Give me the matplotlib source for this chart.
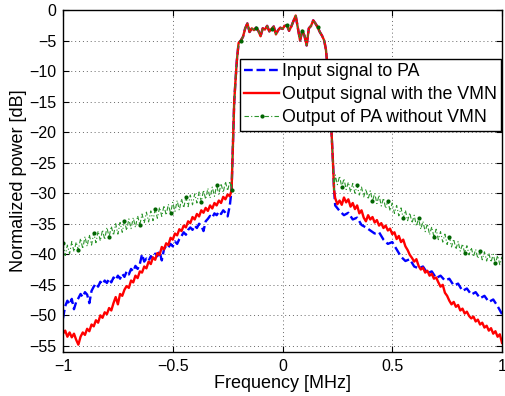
import numpy as np
import matplotlib
matplotlib.use("Agg")
import matplotlib.pyplot as plt

# ---------------- data (dB) ----------------
# Left skirt: uniform bins from -1.00 MHz to -0.24 MHz
red_left = [-53.0, -52.5, -53.5, -52.8, -53.6, -53.0, -54.0, -54.8, -53.5, -52.8,
            -53.2, -52.2, -52.6, -51.5, -51.8, -50.8, -51.2, -50.0, -50.4, -49.5,
            -49.8, -48.8, -49.2, -48.0, -47.0, -48.2, -46.5, -46.8, -45.8, -45.2,
            -45.5, -44.3, -44.6, -43.5, -43.9, -42.8, -43.0, -42.0, -42.3, -41.2,
            -41.6, -40.5, -40.9, -39.8, -40.1, -38.8, -39.2, -38.2, -38.5, -37.3,
            -37.6, -36.6, -36.9, -35.9, -36.2, -35.3, -35.6, -34.6, -34.9, -33.9,
            -34.3, -33.4, -33.8, -32.8, -33.2, -32.4, -32.9, -32.0, -32.5, -31.6,
            -32.0, -31.2, -31.6, -30.6, -31.0, -30.2, -30.5]
blue_left = [-50.5, -48.5, -47.6, -48.2, -47.3, -49.0, -47.8, -47.2, -46.5, -47.0,
             -46.2, -46.6, -48.0, -46.0, -45.3, -44.8, -45.3, -44.5, -44.9, -44.3,
             -44.7, -44.0, -44.6, -43.8, -44.2, -43.5, -44.0, -43.2, -43.7, -42.8,
             -43.3, -42.4, -42.8, -41.9, -42.4, -41.6, -40.0, -41.2, -40.7, -41.1,
             -40.3, -40.7, -39.9, -40.3, -39.5, -41.0, -39.2, -38.6, -38.9, -38.3,
             -38.7, -37.9, -38.3, -37.5, -37.0, -36.4, -36.8, -36.0, -35.6, -36.0,
             -35.3, -35.7, -35.0, -35.3, -36.2, -34.6, -34.2, -33.7, -34.0, -33.3,
             -33.6, -33.0, -33.4, -32.8, -33.2, -33.8, -32.0]
green_left = [-38.2, -40.2, -38.5, -39.9, -37.9, -39.6, -38.0, -39.3, -37.4, -39.1,
              -37.1, -38.7, -36.8, -38.5, -36.5, -38.1, -36.2, -37.8, -36.0, -37.6,
              -35.6, -37.2, -35.4, -36.9, -35.0, -36.7, -34.8, -36.4, -34.5, -36.1,
              -34.2, -35.8, -34.0, -35.6, -33.7, -35.2, -33.4, -34.9, -33.1, -34.7,
              -32.9, -34.5, -32.6, -34.1, -32.3, -33.8, -32.0, -33.6, -31.8, -33.3,
              -31.5, -33.0, -31.2, -32.8, -30.9, -32.4, -30.6, -32.2, -30.3, -31.9,
              -30.1, -31.6, -29.8, -31.4, -29.5, -31.0, -29.2, -30.8, -29.0, -30.5,
              -28.7, -30.2, -28.4, -29.9, -28.1, -29.6, -28.0]

# Right skirt: uniform bins from 0.24 MHz to 1.00 MHz
red_right = [-30.8, -31.8, -31.2, -31.9, -30.7, -31.5, -31.0, -32.2, -31.6, -32.6,
             -32.0, -33.3, -32.8, -34.0, -34.6, -33.6, -34.3, -33.9, -34.8, -34.4,
             -35.3, -34.9, -35.7, -35.3, -36.1, -35.8, -36.7, -36.4, -37.5, -37.0,
             -38.0, -37.6, -38.7, -39.3, -40.1, -40.6, -41.2, -40.8, -41.9, -42.5,
             -42.2, -43.0, -42.7, -43.5, -43.2, -44.0, -43.8, -44.6, -45.3, -45.0,
             -46.3, -46.8, -47.6, -48.2, -47.8, -48.6, -48.3, -49.2, -48.9, -49.7,
             -49.4, -50.1, -50.5, -50.2, -51.0, -50.7, -51.5, -51.2, -52.0, -51.7,
             -52.5, -52.1, -53.0, -52.6, -53.5, -53.1, -54.5]
blue_right = [-32.0, -32.9, -33.6, -33.2, -34.3, -34.0, -35.2, -35.6, -36.1, -36.6,
              -36.4, -37.6, -38.3, -38.0, -39.2, -40.4, -41.1, -40.8, -42.0, -42.3,
              -42.0, -43.1, -42.8, -43.9, -43.5, -44.3, -44.0, -45.1, -44.8, -46.0,
              -45.6, -46.6, -46.2, -47.2, -46.8, -47.8, -47.4, -48.5, -49.8]
green_right = [-27.0, -28.6, -27.2, -29.0, -27.6, -29.4, -28.2, -29.8, -28.4, -30.0,
               -28.7, -30.3, -29.0, -30.6, -29.3, -31.0, -29.6, -31.3, -30.0, -31.7,
               -30.3, -32.1, -30.8, -32.5, -31.2, -32.9, -31.6, -33.3, -32.0, -33.7,
               -32.4, -34.1, -32.8, -34.5, -33.2, -34.9, -33.6, -35.4, -34.1, -35.9,
               -34.6, -36.3, -35.0, -36.8, -35.5, -37.2, -35.9, -37.6, -36.3, -38.0,
               -36.7, -38.4, -37.1, -38.8, -37.5, -39.2, -37.9, -39.5, -38.3, -39.8,
               -38.6, -40.1, -38.9, -40.4, -39.2, -40.7, -39.4, -40.9, -39.6, -41.1,
               -39.8, -41.3, -40.0, -41.5, -40.2, -41.7, -40.4]

# In-band (shared): uniform bins from -0.20 MHz to 0.19 MHz
pass_db = [-5.4, -5.0, -4.4, -3.0, -2.2, -3.6, -3.0, -3.3, -2.9, -3.4,
           -4.3, -3.0, -3.2, -2.6, -3.5, -3.1, -2.7, -4.0, -3.3, -2.9,
           -3.1, -2.6, -2.5, -3.4, -2.7, -1.8, -0.9, -3.0, -5.0, -3.4,
           -4.2, -5.8, -3.0, -2.6, -1.7, -2.2, -2.8, -3.6, -4.2, -5.0]
# Band edges
edge_left_f = [-0.232, -0.226, -0.220, -0.214, -0.208, -0.203]
edge_left_db = [-29.5, -22.0, -15.0, -11.5, -8.3, -6.5]
edge_right_f = [0.198, 0.203, 0.210, 0.217, 0.224, 0.230, 0.235]
edge_right_db = [-6.5, -8.5, -12.0, -16.0, -20.5, -25.0, -29.5]

labels = ["Input signal to PA", "Output signal with the VMN",
          "Output of PA without VMN"]
x_ticks = [-1, -0.5, 0, 0.5, 1]
x_ticklabels = ["\u22121", "\u22120.5", "0", "0.5", "1"]
y_ticks = list(range(-55, 1, 5))


def series(left, right):
    fl = np.linspace(-1.0, -0.24, len(left))
    fp = np.linspace(-0.20, 0.19, len(pass_db))
    fr = np.linspace(0.24, 1.0, len(right))
    f = np.concatenate([fl, edge_left_f, fp, edge_right_f, fr])
    y = np.concatenate([left, edge_left_db, pass_db, edge_right_db, right])
    return f, y


plt.rcParams["font.family"] = ["Liberation Sans", "DejaVu Sans"]

fig = plt.figure(figsize=(5.05, 3.96), dpi=100)
ax = fig.add_axes([63 / 505, 44 / 396, 439 / 505, 342 / 396])

fb, yb = series(blue_left, blue_right)
fr_, yr = series(red_left, red_right)
fg, yg = series(green_left, green_right)

ax.plot(fb, yb, color="blue", linestyle="--", linewidth=1.7, label=labels[0])
ax.plot(fr_, yr, color="red", linestyle="-", linewidth=1.7, label=labels[1])
ax.plot(fg, yg, color="#2a942a", linestyle=(0, (4, 2, 1, 2)), linewidth=0.8,
        marker=".", markersize=4, markevery=7, markerfacecolor="#006400",
        markeredgecolor="#006400", label=labels[2])

ax.set_xlim(-1, 1)
ax.set_ylim(-56, 0)
ax.set_xticks(x_ticks)
ax.set_xticklabels(x_ticklabels)
ax.set_yticks(y_ticks)
ax.tick_params(direction="in", length=4, top=True, right=True, pad=5,
               labelsize=11.5)
ax.grid(True, color="0.4", linestyle=(0, (1, 3)), linewidth=0.7)
for s in ax.spines.values():
    s.set_linewidth(1.0)

ax.set_xlabel("Frequency [MHz]", fontsize=13, labelpad=1)
ax.set_ylabel("Normalized power [dB]", fontsize=13, labelpad=1)

leg = ax.legend(loc="upper left", bbox_to_anchor=(0.403, 0.857),
                fancybox=False, framealpha=1, edgecolor="black",
                borderpad=0.25, handlelength=1.95, handletextpad=0.15,
                labelspacing=0.34, borderaxespad=0, numpoints=1,
                fontsize=12.8)
leg.get_frame().set_linewidth(1.0)

fig.savefig("out.png", dpi=100)
